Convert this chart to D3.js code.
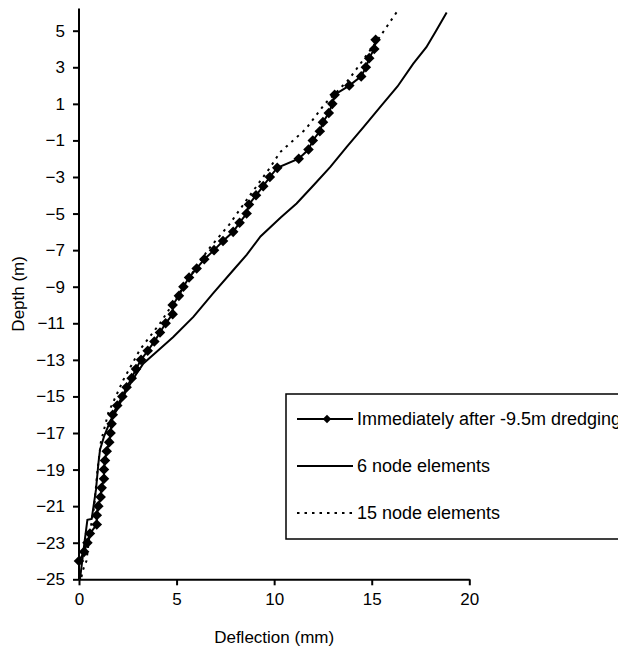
<!DOCTYPE html>
<html>
<head>
<meta charset="utf-8">
<script src="https://cdn.jsdelivr.net/npm/d3@7"></script>
<style>
  html, body { margin: 0; padding: 0; background: #fff; }
  svg { display: block; font-family: "Liberation Sans", Arial, sans-serif; }
</style>
</head>
<body>
<svg id="chart" width="618" height="648"></svg>
<script>
// Measured pile deflection profile, immediately after dredging to -9.5 m
const measuredDepth = [
  -24, -23.5, -23, -22.5, -22, -21.5, -21, -20.5, -20, -19.5,
  -19, -18.5, -18, -17.5, -17, -16.5, -16, -15.5, -15, -14.5,
  -14, -13.5, -13, -12.5, -12, -11.5, -11, -10.5, -10, -9.5,
  -9, -8.5, -8, -7.5, -7, -6.5, -6, -5.5, -5, -4.5,
  -4, -3.5, -3, -2.5, -2, -1.5, -1, -0.5, 0, 0.5,
  1, 1.5, 2, 2.5, 3, 3.5, 4, 4.5
];
const measuredDefl = [
  0.0, 0.26, 0.43, 0.56, 0.91, 0.91, 0.99, 1.11, 1.16, 1.28,
  1.28, 1.33, 1.42, 1.55, 1.62, 1.67, 1.73, 1.96, 2.22, 2.44,
  2.7, 2.92, 3.18, 3.52, 3.86, 4.15, 4.44, 4.8, 4.8, 5.12,
  5.35, 5.64, 6.03, 6.42, 6.92, 7.38, 7.9, 8.23, 8.59, 8.71,
  9.07, 9.44, 9.78, 10.16, 11.26, 11.76, 11.98, 12.34, 12.5, 12.8,
  12.98, 13.1, 13.85, 14.46, 14.7, 14.87, 15.13, 15.2
];

// Finite element prediction with 6-node elements
const sixNodeDepth = [
  6.0, 5.0, 4.1, 3.2, 1.95, 0.85, -0.25, -1.35, -2.45, -3.45,
  -4.45, -5.2, -6.25, -7.25, -8.1, -9.35, -10.65, -11.75, -12.55, -13.2,
  -13.75, -14.65, -15.75, -16.3, -17.2, -17.9, -18.6, -20.1, -21.7, -21.75,
  -23.0, -25.0
];
const sixNodeDefl = [
  18.84, 18.3, 17.8, 17.13, 16.32, 15.45, 14.6, 13.72, 12.88, 12.02,
  11.15, 10.35, 9.3, 8.6, 7.9, 6.88, 5.86, 4.83, 3.98, 3.3,
  2.95, 2.44, 1.93, 1.62, 1.28, 1.08, 1.0, 0.87, 0.65, 0.43,
  0.28, 0.05
];

// Finite element prediction with 15-node elements
const fifteenNodeDepth = [
  6.0, 4.67, 3.4, 2.3, 1.0, -0.4, -1.65, -2.5, -4.0, -5.6,
  -7.0, -8.7, -9.9, -11.0, -12.45, -14.1, -15.9, -17.5, -19.0, -21.0,
  -22.5, -24.0, -24.5, -25.0
];
const fifteenNodeDefl = [
  16.27, 15.42, 14.56, 13.8, 12.6, 11.6, 10.3, 9.78, 8.76, 7.7,
  6.6, 5.52, 4.83, 4.15, 3.12, 2.27, 1.5, 1.12, 0.95, 0.78,
  0.55, 0.38, 0.2, 0.1
];

const xTicks = [0, 5, 10, 15, 20];
const yTicks = [-25, -23, -21, -19, -17, -15, -13, -11, -9, -7, -5, -3, -1, 1, 3, 5];

const legendLabels = [
  "Immediately after -9.5m dredging",
  "6 node elements",
  "15 node elements"
];

const svg = d3.select("#chart");
const x = d3.scaleLinear().domain([0, 20]).range([79, 469.3]);
const y = d3.scaleLinear().domain([-25, 5]).range([579.3, 30.7]);
const yTop = 6.22;

const fontSize = 17;
const legendFontSize = 18;

// Axes
const xAxis = svg.append("g")
  .attr("transform", `translate(0,${y(-25)})`)
  .call(d3.axisBottom(x).tickValues(xTicks).tickSize(6).tickSizeOuter(0).tickPadding(8));
const yAxis = svg.append("g")
  .attr("transform", `translate(${x(0)},0)`)
  .call(d3.axisLeft(y).tickValues(yTicks).tickSize(6).tickSizeOuter(0).tickPadding(8));
yAxis.select(".domain").attr("d", `M0,${y(yTop)}V${y(-25)}`);

[xAxis, yAxis].forEach(g => {
  g.select(".domain").attr("stroke", "#000").attr("stroke-width", 2);
  g.selectAll(".tick line").attr("stroke", "#000").attr("stroke-width", 2);
  g.selectAll(".tick text")
    .attr("fill", "#000")
    .style("font-family", "'Liberation Sans', Arial, sans-serif")
    .style("font-size", fontSize + "px");
});

// Axis titles
svg.append("text")
  .attr("x", (x(0) + x(20)) / 2)
  .attr("y", 643)
  .attr("text-anchor", "middle")
  .style("font-size", fontSize + "px")
  .text("Deflection (mm)");
svg.append("text")
  .attr("transform", `translate(24,${(y(yTop) + y(-25)) / 2}) rotate(-90)`)
  .attr("text-anchor", "middle")
  .style("font-size", fontSize + "px")
  .text("Depth (m)");

const line = d3.line().x(d => x(d[1])).y(d => y(d[0]));

const sixNode = d3.zip(sixNodeDepth, sixNodeDefl);
const fifteenNode = d3.zip(fifteenNodeDepth, fifteenNodeDefl);
const measured = d3.zip(measuredDepth, measuredDefl);

svg.append("path")
  .datum(sixNode)
  .attr("d", line)
  .attr("fill", "none")
  .attr("stroke", "#000")
  .attr("stroke-width", 2);

svg.append("path")
  .datum(fifteenNode)
  .attr("d", line)
  .attr("fill", "none")
  .attr("stroke", "#000")
  .attr("stroke-width", 2)
  .attr("stroke-dasharray", "2.5,5");

svg.append("path")
  .datum(measured)
  .attr("d", line)
  .attr("fill", "none")
  .attr("stroke", "#000")
  .attr("stroke-width", 2);

const diamond = d3.symbol().type(d3.symbolSquare).size(56);
svg.append("g")
  .selectAll("path")
  .data(measured)
  .join("path")
  .attr("d", diamond)
  .attr("transform", d => `translate(${x(d[1])},${y(d[0])}) rotate(45)`)
  .attr("fill", "#000");

// Legend (box runs past the right edge of the figure)
const legend = svg.append("g");
legend.append("rect")
  .attr("x", 286).attr("y", 394)
  .attr("width", 360).attr("height", 145)
  .attr("fill", "#fff")
  .attr("stroke", "#000")
  .attr("stroke-width", 1.5);

const rowY = [419, 466, 513];
const rows = legend.selectAll("g.row")
  .data(legendLabels)
  .join("g")
  .attr("class", "row")
  .attr("transform", (d, i) => `translate(0,${rowY[i]})`);

rows.append("line")
  .attr("x1", 297).attr("x2", 353)
  .attr("y1", 0).attr("y2", 0)
  .attr("stroke", "#000")
  .attr("stroke-width", 2)
  .attr("stroke-dasharray", (d, i) => i === 2 ? "2.5,5" : null);

rows.filter((d, i) => i === 0)
  .append("path")
  .attr("d", d3.symbol().type(d3.symbolSquare).size(36))
  .attr("transform", "translate(327,0) rotate(45)")
  .attr("fill", "#000");

rows.append("text")
  .attr("x", 357)
  .attr("dy", "0.35em")
  .style("font-size", legendFontSize + "px")
  .text(d => d);
</script>
</body>
</html>
